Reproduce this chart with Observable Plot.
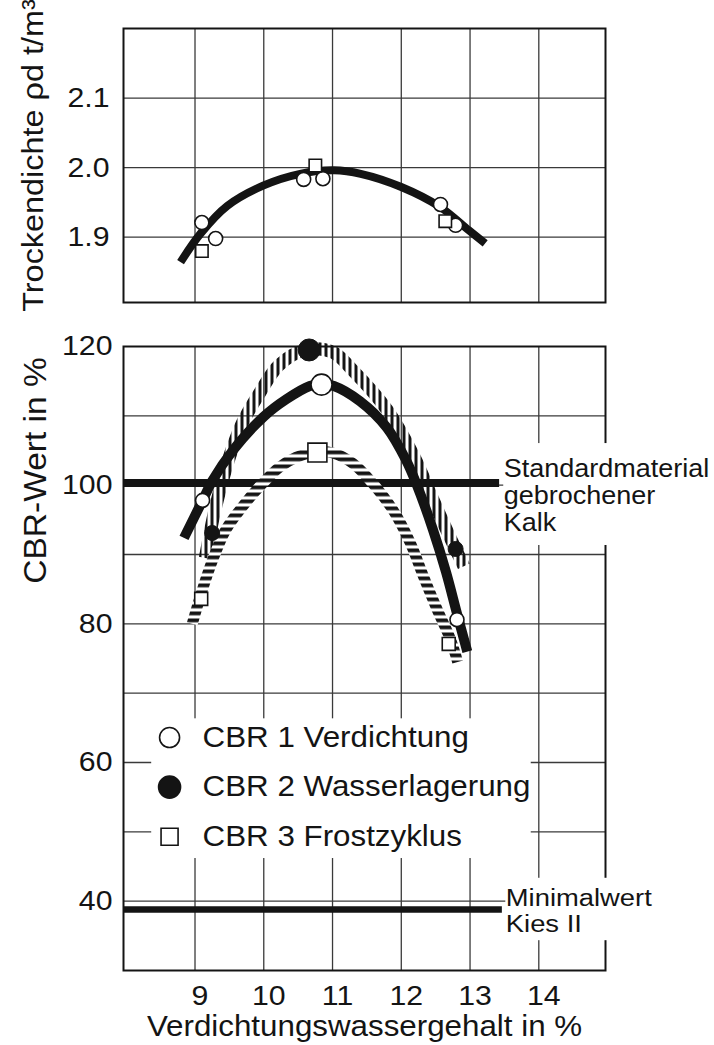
<!DOCTYPE html>
<html>
<head>
<meta charset="utf-8">
<script src="https://cdn.jsdelivr.net/npm/d3@7"></script>
<script src="https://cdn.jsdelivr.net/npm/@observablehq/plot@0.6"></script>
<style>
  html, body { margin: 0; padding: 0; background: #fff; }
  #fig { position: relative; width: 714px; height: 1045px; overflow: hidden; background: #fff; }
</style>
</head>
<body>
<svg width="0" height="0" style="position:absolute">
  <defs>
    <pattern id="vhatch" patternUnits="userSpaceOnUse" width="6" height="8">
      <rect x="0" y="0" width="3" height="8" fill="#151515"></rect>
    </pattern>
    <pattern id="hhatch" patternUnits="userSpaceOnUse" width="8" height="7">
      <rect x="0" y="0" width="8" height="7" fill="#ffffff"></rect>
      <rect x="0" y="0" width="8" height="3.8" fill="#151515"></rect>
    </pattern>
  </defs>
</svg>
<div id="fig"></div>
<script>
// ---------- data ----------
const xTicks = [9, 10, 11, 12, 13, 14];
const densTicks = [1.9, 2.0, 2.1];
const cbrTicks = [40, 60, 80, 100, 120];
const cbrGrid = [40, 50, 60, 70, 80, 90, 100, 110];

const densTitle = "Trockendichte ρd t/m³";
const cbrTitle = "CBR-Wert in %";
const xTitle = "Verdichtungswassergehalt in %";

// top panel: dry density
const densCircleX = [9.10, 9.30, 10.58, 10.86, 12.57, 12.79];
const densCircleY = [1.921, 1.898, 1.983, 1.984, 1.947, 1.917];
const densSquareX = [9.10, 10.75, 12.64];
const densSquareY = [1.880, 2.003, 1.923];
const densCurveX = [8.79, 9.08, 9.47, 9.99, 10.53, 11.02, 11.41, 12.0, 12.57, 12.98, 13.22];
const densCurveY = [1.864, 1.905, 1.945, 1.974, 1.991, 1.996, 1.991, 1.972, 1.943, 1.910, 1.891];

// bottom panel: CBR values
const cbr1X = [9.11, 10.84, 12.81];
const cbr1Y = [97.8, 114.5, 80.6];
const cbr2X = [9.25, 10.66, 12.79];
const cbr2Y = [93.1, 119.5, 90.8];
const cbr3X = [9.09, 10.78, 12.69];
const cbr3Y = [83.6, 104.7, 77.1];

const cbr1CurveX = [8.84, 9.11, 9.25, 9.55, 9.99, 10.33, 10.67, 10.84, 11.02, 11.4, 11.79, 12.07, 12.22, 12.46, 12.65, 12.81, 12.96];
const cbr1CurveY = [92.4, 97.8, 100.6, 105.0, 109.8, 112.4, 114.3, 114.6, 114.3, 112.1, 108.3, 103.6, 100.2, 93.6, 87.5, 81.5, 76.0];
const cbr2CurveX = [9.15, 9.28, 9.42, 9.55, 9.69, 9.94, 10.22, 10.6, 11.0, 11.3, 11.79, 12.18, 12.43, 12.67, 12.91];
const cbr2CurveY = [89.5, 96.0, 101.4, 105.5, 109.0, 113.3, 117.3, 119.5, 119.2, 116.5, 110.9, 104.2, 98.6, 93.3, 88.3];
const cbr3CurveX = [8.96, 9.11, 9.26, 9.45, 9.69, 9.94, 10.23, 10.47, 10.76, 11.02, 11.3, 11.59, 11.88, 12.13, 12.32, 12.52, 12.71, 12.82];
const cbr3CurveY = [80.0, 85.0, 89.3, 93.6, 96.9, 99.8, 102.6, 104.0, 104.8, 104.6, 103.1, 100.2, 96.4, 91.7, 86.9, 82.1, 77.9, 74.5];

// reference lines
const refValues = [100.3, 38.8];
const refEnds = [13.43, 13.47];
const refLabels = ["Standardmaterial\ngebrochener\nKalk", "Minimalwert\nKies II"];

// legend
const legendLabels = ["CBR 1 Verdichtung", "CBR 2 Wasserlagerung", "CBR 3 Frostzyklus"];

// ---------- layout ----------
const xDomain = [7.96, 14.97];
const font = "'Liberation Sans', Arial, Helvetica, sans-serif";
const ink = "#141414";
const gridStyle = {stroke: "#3a3a3a", strokeOpacity: 1, strokeWidth: 1.3};
const pts = (X, Y) => X.map((x, i) => ({x, y: Y[i]}));

const topPlot = Plot.plot({
  width: 714, height: 310,
  marginTop: 28, marginBottom: 8, marginLeft: 123, marginRight: 109,
  style: {fontFamily: font, fontSize: "28px", color: ink, background: "transparent", overflow: "visible"},
  x: {domain: xDomain, axis: null},
  y: {domain: [1.806, 2.2]},
  marks: [
    Plot.gridX(xTicks, gridStyle),
    Plot.gridY(densTicks, gridStyle),
    Plot.frame({stroke: ink, strokeWidth: 2}),
    Plot.axisY(densTicks, {label: null, tickSize: 0, tickPadding: 14, tickFormat: d3.format(".1f"), fontSize: 28}),
    Plot.line(pts(densCurveX, densCurveY), {x: "x", y: "y", curve: "catmull-rom", stroke: ink, strokeWidth: 8, strokeLinecap: "butt"}),
    Plot.dot(pts(densCircleX, densCircleY), {x: "x", y: "y", r: 7, symbol: "circle", fill: "white", stroke: ink, strokeWidth: 1.6}),
    Plot.dot(pts(densSquareX, densSquareY), {x: "x", y: "y", r: 7, symbol: "square", fill: "white", stroke: ink, strokeWidth: 1.6}),
    Plot.text([densTitle], {text: d => d, frameAnchor: "left", textAnchor: "middle", lineAnchor: "middle", dx: -90, dy: -10, rotate: -90, fontSize: 30})
  ]
});

const refs = refValues.map((v, i) => ({value: v, end: refEnds[i], label: refLabels[i]}));
const masks = [
  {x1: 8.37, x2: 13.89, y1: 46.15, y2: 66.3},   // legend box
  {x1: 13.49, x2: 16.0, y1: 91.3, y2: 106.0},   // "Standardmaterial" label
  {x1: 13.52, x2: 16.0, y1: 34.3, y2: 43.3}     // "Minimalwert" label
];
const legendRows = legendLabels.map((label, i) => ({label, i}));
const legTop = 63.6, legStep = 7.15, legSymX = 8.63, legTextX = 9.11;
const legY = d => legTop - d.i * legStep;

const bottomPlot = Plot.plot({
  width: 714, height: 735,
  marginTop: 36, marginBottom: 75, marginLeft: 123, marginRight: 109,
  style: {fontFamily: font, fontSize: "28px", color: ink, background: "transparent", overflow: "visible"},
  x: {domain: xDomain},
  y: {domain: [30, 120]},
  r: {type: "identity"},
  marks: [
    Plot.gridX(xTicks, gridStyle),
    Plot.gridY(cbrGrid, gridStyle),
    Plot.frame({stroke: ink, strokeWidth: 2}),
    Plot.rect(masks, {x1: "x1", x2: "x2", y1: "y1", y2: "y2", fill: "white"}),
    Plot.axisY(cbrTicks, {label: null, tickSize: 0, tickPadding: 11, fontSize: 28}),
    Plot.axisX(xTicks, {label: null, tickSize: 0, tickPadding: 15, dx: 5, fontSize: 28}),
    Plot.ruleY(refs, {y: "value", x1: () => xDomain[0], x2: "end", stroke: ink, strokeWidth: (d, i) => i === 0 ? 8 : 6.5}),
    Plot.line(pts(cbr2CurveX, cbr2CurveY), {x: "x", y: "y", curve: "catmull-rom", stroke: "url(#vhatch)", strokeWidth: 13, strokeLinecap: "butt"}),
    Plot.line(pts(cbr3CurveX, cbr3CurveY), {x: "x", y: "y", curve: "catmull-rom", stroke: "url(#hhatch)", strokeWidth: 11, strokeLinecap: "butt"}),
    Plot.line(pts(cbr1CurveX, cbr1CurveY), {x: "x", y: "y", curve: "catmull-rom", stroke: ink, strokeWidth: 10, strokeLinecap: "butt"}),
    Plot.dot(pts(cbr3X, cbr3Y), {x: "x", y: "y", r: (d, i) => i === 1 ? 10.7 : 7.3, symbol: "square", fill: "white", stroke: ink, strokeWidth: 1.6}),
    Plot.dot(pts(cbr2X, cbr2Y), {x: "x", y: "y", r: (d, i) => i === 1 ? 11 : 7.5, symbol: "circle", fill: ink, stroke: ink, strokeWidth: 1}),
    Plot.dot(pts(cbr1X, cbr1Y), {x: "x", y: "y", r: (d, i) => i === 1 ? 10.5 : 7, symbol: "circle", fill: "white", stroke: ink, strokeWidth: 1.6}),
    // legend
    Plot.dot(legendRows, {x: () => legSymX, y: legY, r: d => d.i === 1 ? 11 : (d.i === 2 ? 9.6 : 10), symbol: d => d.i === 2 ? "square" : "circle", fill: d => d.i === 1 ? ink : "white", stroke: ink, strokeWidth: 1.6}),
    Plot.text(legendRows, {x: () => legTextX, y: legY, text: "label", textAnchor: "start", lineAnchor: "middle", fontSize: 29}),
    // reference labels
    Plot.text(refs.slice(0, 1), {x: d => d.end + 0.06, y: "value", text: "label", textAnchor: "start", lineAnchor: "top", dy: -25, fontSize: 25, lineHeight: 1.07}),
    Plot.text(refs.slice(1), {x: d => d.end + 0.05, y: "value", text: "label", textAnchor: "start", lineAnchor: "top", dy: -21, fontSize: 23, lineHeight: 1.1, className: "wide-label"}),
    // axis titles
    Plot.text([cbrTitle], {text: d => d, frameAnchor: "top-left", textAnchor: "middle", lineAnchor: "middle", dx: -87, dy: 124, rotate: -90, fontSize: 31}),
    Plot.text([xTitle], {text: d => d, frameAnchor: "bottom", textAnchor: "middle", dy: 65, lineAnchor: "bottom", fontSize: 29})
  ]
});

const fig = document.getElementById("fig");
function place(node, topPx) {
  const d = document.createElement("div");
  d.style.cssText = `position:absolute;left:0;top:${topPx}px;`;
  d.appendChild(node);
  fig.appendChild(d);
}
place(topPlot, 0);
place(bottomPlot, 310);

// the reference typeface is a little wider than Liberation Sans: widen glyphs slightly
function widenText(texts, k) {
  texts.forEach(t => {
    if (t.dataset.widened) return;
    t.dataset.widened = "1";
    const spans = t.querySelectorAll("tspan");
    const els = spans.length ? Array.from(spans) : [t];
    els.forEach(el => {
      const L = el.getComputedTextLength();
      if (L > 0) {
        el.setAttribute("textLength", (L * k).toFixed(2));
        el.setAttribute("lengthAdjust", "spacingAndGlyphs");
      }
    });
  });
}
widenText(fig.querySelectorAll(".wide-label text"), 1.19);
widenText(fig.querySelectorAll("text"), 1.08);
</script>
</body>
</html>
